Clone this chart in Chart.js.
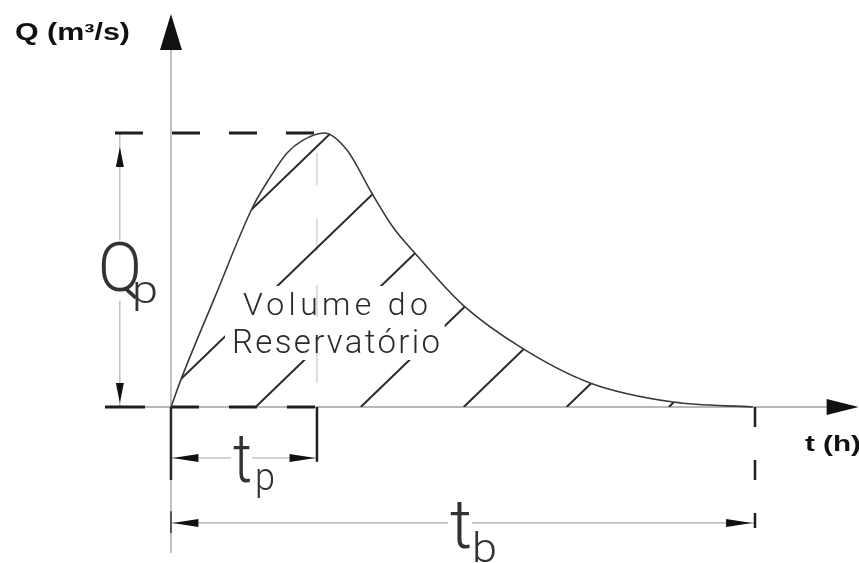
<!DOCTYPE html>
<html>
<head>
<meta charset="utf-8">
<title>Hidrograma - Volume do Reservatório</title>
<script src="https://cdn.jsdelivr.net/npm/chart.js@4.4.1/dist/chart.umd.min.js"></script>
<style>
  html, body { margin:0; padding:0; background:#fff; }
  #wrap { width:859px; height:563px; }
</style>
</head>
<body>
<div id="wrap"><canvas id="chart" width="859" height="563"></canvas></div>
<script>
// hidrograma: t em horas, Q em m³/s
const tempo = [0, 0.15, 0.6, 1.12, 1.36, 1.59, 1.81, 2.1, 2.41, 2.75, 3.04, 3.34, 4.0, 4.81, 5.74, 6.88, 7.97];
const vazao = [0, 1.09, 4.0, 7.30, 8.39, 9.27, 9.74, 10.0, 9.38, 7.81, 6.57, 5.62, 3.72, 2.15, 0.88, 0.18, 0];
const Qp = 10, tp = 2, tb = 8;

// hachuras: onde cada linha corta o eixo t
const hatchStarts = [-1.70, -0.26, 1.16, 2.60, 4.01, 5.42, 6.82];
const hatchRun = 3.89;               // avanço em t para subir Qp
const hatchMaskT = [0.74, 3.75];     // caixa do texto (sem hachura)
const hatchMaskQ = [1.72, 4.42];

// janela do desenho
const tMin = -2.342, tMax = 9.425, qMin = -5.693, qMax = 14.854;

// cotas
const leftEnd = -0.904, dimQp = -0.70, dimTp = -1.86, dimTb = -4.23;
const tpDrop = -2.0, tbDrop = -4.42, axisDark = -2.66, axisBottom = -5.33, axisTop = 13.1;

const labels = [
  { text:'Q (m³/s)', t:-2.137, q:13.39, font:'bold 23px "Liberation Sans", Arial, sans-serif', width:115, color:'#111' },
  { text:'t (h)', t:8.685, q:-1.606, font:'bold 22px "Liberation Sans", Arial, sans-serif', width:56, color:'#111' },
  { text:'Q', t:-1.0, q:4.234, font:'300 69px Roboto, "DejaVu Sans", sans-serif', width:44, color:'#333', blank:true },
  { text:'p', t:-0.534, q:3.80, font:'300 38px Roboto, "DejaVu Sans", sans-serif', width:26, color:'#333' },
  { text:'Volume do', t:0.986, q:3.358, font:'300 32px Roboto, "DejaVu Sans", sans-serif', width:185, color:'#2a2a2a', spaced:true },
  { text:'Reservatório', t:0.836, q:1.971, font:'300 33px Roboto, "DejaVu Sans", sans-serif', width:208, color:'#2a2a2a', spaced:true },
  { text:'t', t:0.849, q:-2.737, font:'300 68px Roboto, "DejaVu Sans", sans-serif', width:19, color:'#333', blank:true },
  { text:'p', t:1.151, q:-3.03, font:'300 38px Roboto, "DejaVu Sans", sans-serif', width:20, color:'#333' },
  { text:'t', t:3.822, q:-5.146, font:'300 68px Roboto, "DejaVu Sans", sans-serif', width:22, color:'#333', blank:true },
  { text:'b', t:4.123, q:-5.657, font:'300 41px Roboto, "DejaVu Sans", sans-serif', width:25, color:'#333' },
];

// setas: ponta em (t,q)
const arrows = [
  { t:0, q:14.34, dir:'up', len:36, half:11 },
  { t:tMax - 0.005, q:0, dir:'right', len:32, half:8 },
  { t:dimQp, q:9.49, dir:'up', len:20, half:4 },
  { t:dimQp, q:0.15, dir:'down', len:20, half:4 },
  { t:0.02, q:dimTp, dir:'left', len:26, half:4 },
  { t:tp - 0.02, q:dimTp, dir:'right', len:26, half:4 },
  { t:0.02, q:dimTb, dir:'left', len:26, half:4 },
  { t:tb - 0.04, q:dimTb, dir:'right', len:26, half:4 },
];

const seg = (pts, style) => Object.assign({
  data: pts.map(([x, y]) => ({ x, y })),
  pointRadius: 0, fill: false, borderColor: '#9a9a9a', borderWidth: 1.2, tension: 0
}, style);

const thin = { borderColor:'#a0a0a0', borderWidth:1.3 };
const heavy = { borderColor:'#1e1e1e', borderWidth:3 };

// índice menor = desenhado por cima
const datasets = [
  // 0: hidrograma
  { data: tempo.map((t, i) => ({ x:t, y:vazao[i] })), borderColor:'#3a3a3a', borderWidth:1.6,
    cubicInterpolationMode:'monotone', pointRadius:0, fill:false },
  // hachuras
  ...hatchStarts.map(t0 => seg([[t0, 0], [t0 + hatchRun * 1.2, Qp * 1.2]], { borderColor:'#2a2a2a', borderWidth:2, hatch:true })),
  // tracejados e colchetes
  seg([[-0.767, Qp], [tp, Qp]], Object.assign({ borderDash:[28, 29] }, heavy)),
  seg([[0, 0], [tp, 0]], Object.assign({ borderDash:[28, 30] }, heavy)),
  seg([[leftEnd, 0], [-0.356, 0]], heavy),
  seg([[tp, 0], [tp, tpDrop]], { borderColor:'#1e1e1e', borderWidth:2.5 }),
  seg([[tb, 0], [tb, tbDrop]], { borderColor:'#1e1e1e', borderWidth:2.5, borderDash:[20, 33] }),
  seg([[0, 0], [0, axisDark]], { borderColor:'#2a2a2a', borderWidth:2.5 }),
  seg([[0, -3.8], [0, -4.6]], { borderColor:'#555', borderWidth:2 }),
  // linhas de cota
  seg([[dimQp, 0], [dimQp, Qp]], { borderColor:'#a8a8a8', borderWidth:1.1 }),
  seg([[0, dimTp], [tp, dimTp]], { borderColor:'#a8a8a8', borderWidth:1.1 }),
  seg([[0, dimTb], [tb, dimTb]], { borderColor:'#a8a8a8', borderWidth:1.1 }),
  seg([[tp, Qp], [tp, 0]], { borderColor:'#c8c8c8', borderWidth:1.2, borderDash:[32, 34], borderDashOffset:-20 }),
  // eixos
  seg([[0, axisBottom], [0, axisTop]], thin),
  seg([[leftEnd, 0], [9.0, 0]], thin),
];

const hatchClip = {
  id: 'hatchClip',
  beforeDatasetDraw(chart, args) {
    if (!chart.data.datasets[args.index].hatch) return;
    const ctx = chart.ctx, xs = chart.scales.x, ys = chart.scales.y;
    const curve = chart.getDatasetMeta(0);
    ctx.save();
    ctx.beginPath();
    if (curve.dataset && typeof curve.dataset.path === 'function') {
      curve.dataset.path(ctx);
    } else {
      curve.data.forEach((p, i) => i ? ctx.lineTo(p.x, p.y) : ctx.moveTo(p.x, p.y));
    }
    ctx.closePath();
    const x1 = xs.getPixelForValue(hatchMaskT[0]), x2 = xs.getPixelForValue(hatchMaskT[1]);
    const y1 = ys.getPixelForValue(hatchMaskQ[1]), y2 = ys.getPixelForValue(hatchMaskQ[0]);
    ctx.rect(x1, y1, x2 - x1, y2 - y1);
    ctx.clip('evenodd');
  },
  afterDatasetDraw(chart, args) {
    if (chart.data.datasets[args.index].hatch) chart.ctx.restore();
  }
};

const annotations = {
  id: 'annotations',
  afterDatasetsDraw(chart) {
    const ctx = chart.ctx, xs = chart.scales.x, ys = chart.scales.y;
    // setas
    ctx.save();
    ctx.fillStyle = '#111';
    arrows.forEach(a => {
      const x = xs.getPixelForValue(a.t), y = ys.getPixelForValue(a.q);
      const d = { up:[0, 1], down:[0, -1], left:[1, 0], right:[-1, 0] }[a.dir];
      const bx = x + d[0] * a.len, by = y + d[1] * a.len;
      ctx.beginPath();
      ctx.moveTo(x, y);
      ctx.lineTo(bx + d[1] * a.half, by + d[0] * a.half);
      ctx.lineTo(bx - d[1] * a.half, by - d[0] * a.half);
      ctx.closePath();
      ctx.fill();
    });
    ctx.restore();
    // textos
    labels.forEach(l => {
      const x = xs.getPixelForValue(l.t), y = ys.getPixelForValue(l.q);
      ctx.save();
      ctx.font = l.font;
      ctx.textBaseline = 'alphabetic';
      ctx.textAlign = 'left';
      let m = ctx.measureText(l.text);
      let sx = l.width / m.width;
      if (l.spaced && 'letterSpacing' in ctx && l.text.length > 1) {
        ctx.letterSpacing = ((l.width - m.width) / (l.text.length - 1)) + 'px';
        m = ctx.measureText(l.text);
        sx = 1;
      }
      ctx.translate(x, y);
      ctx.scale(sx, 1);
      if (l.blank) {
        ctx.fillStyle = '#fff';
        ctx.fillRect(-m.actualBoundingBoxLeft - 2, -m.actualBoundingBoxAscent - 1,
          m.actualBoundingBoxLeft + m.actualBoundingBoxRight + 4,
          m.actualBoundingBoxAscent + m.actualBoundingBoxDescent + 2);
      }
      ctx.fillStyle = l.color;
      ctx.fillText(l.text, 0, 0);
      ctx.restore();
    });
  }
};

new Chart(document.getElementById('chart'), {
  type: 'line',
  data: { datasets },
  options: {
    responsive: false,
    animation: false,
    layout: { padding: 0 },
    plugins: { legend: { display: false }, tooltip: { enabled: false } },
    scales: {
      x: { type: 'linear', display: false, min: tMin, max: tMax },
      y: { type: 'linear', display: false, min: qMin, max: qMax }
    },
    elements: { point: { radius: 0 }, line: { borderCapStyle: 'butt' } }
  },
  plugins: [hatchClip, annotations]
});
</script>
</body>
</html>
